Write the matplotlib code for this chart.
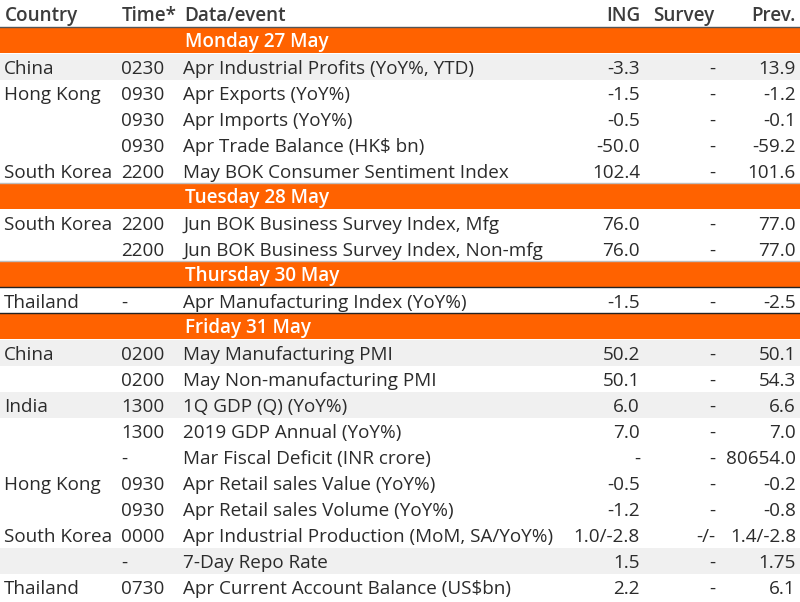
import matplotlib
matplotlib.use("Agg")
import matplotlib.pyplot as plt
from matplotlib.patches import Rectangle

plt.rcParams['font.family'] = ['Open Sans', 'DejaVu Sans']

headers = ["Country", "Time*", "Data/event", "ING", "Survey", "Prev."]
days = ["Monday 27 May", "Tuesday 28 May", "Thursday 30 May", "Friday 31 May"]
row_day = [0, 0, 0, 0, 0, 1, 1, 2, 3, 3, 3, 3, 3, 3, 3, 3, 3, 3]
countries = ["China", "Hong Kong", "", "", "South Korea",
             "South Korea", "",
             "Thailand",
             "China", "", "India", "", "", "Hong Kong", "", "South Korea", "", "Thailand"]
times = ["0230", "0930", "0930", "0930", "2200",
         "2200", "2200",
         "-",
         "0200", "0200", "1300", "1300", "-", "0930", "0930", "0000", "-", "0730"]
events = ["Apr Industrial Profits (YoY%, YTD)", "Apr Exports (YoY%)", "Apr Imports (YoY%)",
          "Apr Trade Balance (HK\\$ bn)", "May BOK Consumer Sentiment Index",
          "Jun BOK Business Survey Index, Mfg", "Jun BOK Business Survey Index, Non-mfg",
          "Apr Manufacturing Index (YoY%)",
          "May Manufacturing PMI", "May Non-manufacturing PMI", "1Q GDP (Q) (YoY%)",
          "2019 GDP Annual (YoY%)", "Mar Fiscal Deficit (INR crore)",
          "Apr Retail sales Value (YoY%)", "Apr Retail sales Volume (YoY%)",
          "Apr Industrial Production (MoM, SA/YoY%)", "7-Day Repo Rate",
          "Apr Current Account Balance (US\\$bn)"]
ing = ["-3.3", "-1.5", "-0.5", "-50.0", "102.4",
       "76.0", "76.0",
       "-1.5",
       "50.2", "50.1", "6.0", "7.0", "-", "-0.5", "-1.2", "1.0/-2.8", "1.5", "2.2"]
survey = ["-", "-", "-", "-", "-",
          "-", "-",
          "-",
          "-", "-", "-", "-", "-", "-", "-", "-/-", "-", "-"]
prev = ["13.9", "-1.2", "-0.1", "-59.2", "101.6",
        "77.0", "77.0",
        "-2.5",
        "50.1", "54.3", "6.6", "7.0", "80654.0", "-0.2", "-0.8", "1.4/-2.8", "1.75", "6.1"]
shaded = [True, False, False, False, False,
          False, False,
          False,
          True, False, True, False, False, False, False, False, True, False]

ORANGE = "#FF6200"
TEXT = "#2b2b2b"
HEAD = "#3c3c3c"
SHADE = "#F0F0F0"

W, H = 800, 602
fig = plt.figure(figsize=(W / 100, H / 100), dpi=100)
ax = fig.add_axes([0, 0, 1, 1])
ax.set_xlim(0, W)
ax.set_ylim(H, 0)
ax.axis("off")

FS = 13.6
x_country, x_time, x_event = 4, 121, 183
x_ing, x_survey, x_prev = 640, 715, 796
top0 = 27.7
rh = 26.0
BASE = 20.3

# header
for lab, x, ha in zip(headers, [5, 122, 184, 640, 714, 796],
                      ["left", "left", "left", "right", "right", "right"]):
    ax.text(x, 21, lab, fontsize=FS, fontweight="semibold", color=HEAD, ha=ha, va="baseline")
ax.plot([0, W], [top0 - 0.5, top0 - 0.5], color="#555555", lw=1.0)

r = 0
prev_day = None
borders = []
for i in range(len(events)):
    d = row_day[i]
    if d != prev_day:
        y0 = top0 + r * rh
        ax.add_patch(Rectangle((0, y0), W, rh - 0.5, color=ORANGE, lw=0))
        ax.text(185, y0 + 19.5, days[d], fontsize=FS, fontweight="semibold",
                color="white", ha="left", va="baseline")
        if r > 0:
            borders.append((y0, d))
        r += 1
        prev_day = d
    y0 = top0 + r * rh
    yb = y0 + BASE
    if shaded[i]:
        ax.add_patch(Rectangle((0, y0), W, rh, color=SHADE, lw=0))
    ax.text(x_country, yb, countries[i], fontsize=FS, color=TEXT, ha="left", va="baseline")
    ax.text(x_time, yb, times[i], fontsize=FS, color=TEXT, ha="left", va="baseline")
    ax.text(x_event, yb, events[i], fontsize=FS, color=TEXT, ha="left", va="baseline")
    ax.text(x_ing, yb, ing[i], fontsize=FS, color=TEXT, ha="right", va="baseline")
    ax.text(x_survey, yb, survey[i], fontsize=FS, color=TEXT, ha="right", va="baseline")
    ax.text(x_prev, yb, prev[i], fontsize=FS, color=TEXT, ha="right", va="baseline")
    r += 1

for y0, d in borders:
    col = "#222222" if d == 3 else "#bdbdbd"
    ax.plot([0, W], [y0 - 0.5, y0 - 0.5], color=col, lw=1.0)
# dark line under Thursday band
thu_idx = 9
ax.plot([0, W], [top0 + (thu_idx + 1) * rh - 0.5] * 2, color="#222222", lw=1.0)

fig.savefig("out.png", dpi=100)
